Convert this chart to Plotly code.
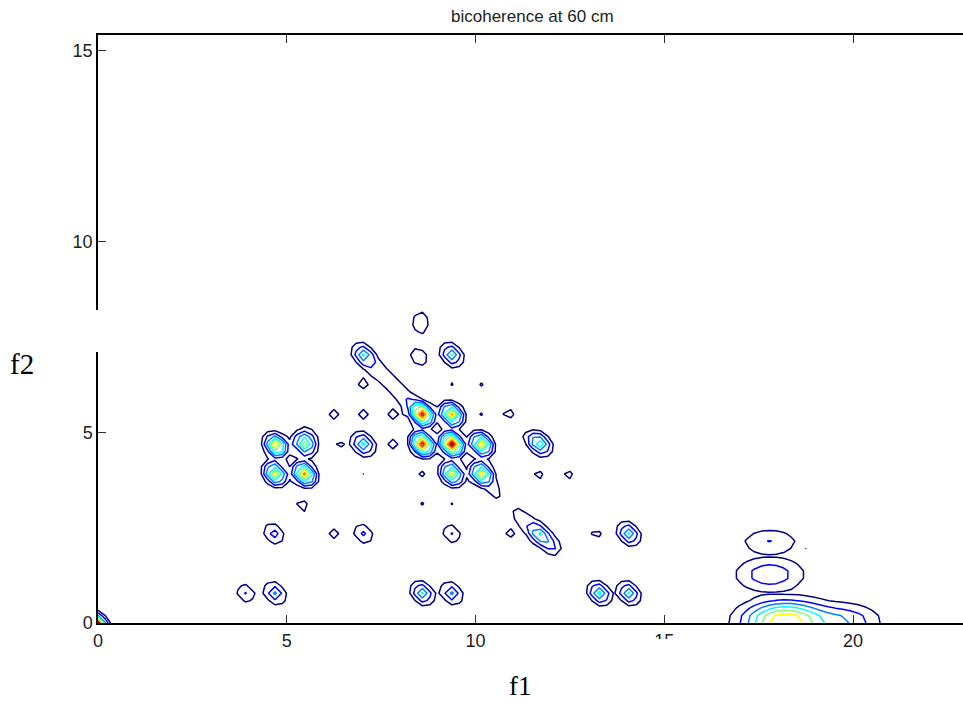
import numpy as np
import plotly.graph_objects as go

# ---- data (frequency in Hz) ----
# compact bicoherence peaks: f1, f2, peak value
peak_f1 = [3.91, 4.69, 8.59, 9.37, 13.28, 14.06,
           4.66, 6.25, 7.03, 9.37, 10.90, 11.67, 11.35, 11.95, 12.09, 13.20, 14.06, 11.08,
           5.42, 8.57, 9.37,
           4.69, 5.47, 6.20, 6.98, 8.56, 9.37, 10.16, 10.55, 10.87, 11.67, 12.46,
           4.72, 5.47, 5.60, 6.38, 7.03, 7.81, 8.59, 9.37, 10.16, 11.72, 11.45,
           6.25, 7.03, 7.81, 8.59, 9.37, 10.12, 10.87,
           7.01, 9.37, 10.16,
           7.30, 7.55, 7.80, 8.05, 8.30,
           7.03, 8.50, 9.37]
peak_f2 = [0.78, 0.78, 0.78, 0.78, 0.78, 0.78,
           2.34, 2.34, 2.34, 2.34, 2.36, 2.34, 2.65, 2.10, 1.94, 2.34, 2.34, 2.91,
           3.08, 3.14, 3.12,
           3.91, 3.91, 3.91, 3.91, 3.91, 3.91, 3.91, 3.40, 3.88, 3.88, 3.88,
           4.65, 4.69, 4.95, 4.67, 4.69, 4.69, 4.69, 4.69, 4.69, 4.69, 4.85,
           5.47, 5.47, 5.47, 5.47, 5.47, 5.50, 5.51,
           6.28, 6.30, 6.25,
           6.75, 6.50, 6.25, 6.00, 5.75,
           7.03, 6.98, 7.03]
peak_val = [0.21, 0.33, 0.42, 0.33, 0.45, 0.42,
            0.26, 0.14, 0.23, 0.21, 0.13, 0.38, 0.14, 0.15, 0.11, 0.13, 0.42, 0.102,
            0.14, 0.11, 0.105,
            0.65, 0.75, 0.102, 0.105, 0.12, 0.65, 0.68, 0.13, 0.102, 0.13, 0.13,
            0.72, 0.55, 0.12, 0.12, 0.45, 0.14, 0.88, 0.95, 0.70, 0.45, 0.12,
            0.14, 0.14, 0.14, 0.85, 0.72, 0.11, 0.14,
            0.14, 0.11, 0.11,
            0.13, 0.13, 0.13, 0.13, 0.13,
            0.40, 0.20, 0.42]

# broad features: f1, f2, peak value, spread along f1, spread along f2, group
broad_f1 = [8.55, 18.20, 19.90, 17.80, 17.80, 18.70, 19.05, 20.85, 21.03, 0.00]
broad_f2 = [7.87, 0.05, 0.05, 1.27, 2.12, 1.94, 1.34, 0.16, 0.00, 0.00]
broad_val = [0.17, 0.70, 0.25, 0.28, 0.205, 0.11, 0.11, 0.105, 0.11, 0.95]
broad_w1 = [0.20, 0.75, 0.60, 0.63, 0.55, 0.12, 0.10, 0.12, 0.12, 0.13]
broad_w2 = [0.28, 0.35, 0.30, 0.32, 0.25, 0.12, 0.15, 0.12, 0.12, 0.13]
broad_group = [1, 2, 2, 3, 4, 5, 6, 7, 8, 9]

contour_levels = [0.1, 0.9, 0.1]  # start, end, step
x_ticks = [0, 5, 10, 15, 20]
y_ticks = [0, 5, 10, 15]

# ---- frequency grid (resolution 25/128 Hz) ----
df = 25 / 128
f1 = np.arange(0, 121) * df
f2 = np.arange(0, 46) * df
F1, F2 = np.meshgrid(f1, f2)

su, sv = 0.21, 0.16
z_peaks = np.zeros_like(F1)
for a, b, v in zip(peak_f1, peak_f2, peak_val):
    dx, dy = F1 - a, F2 - b
    u = (dx - dy) / np.sqrt(2)
    w = (dx + dy) / np.sqrt(2)
    z_peaks += v * np.exp(-(u ** 2 / (2 * su ** 2) + w ** 2 / (2 * sv ** 2)))

groups = {}
for a, b, v, s1, s2, g in zip(broad_f1, broad_f2, broad_val, broad_w1, broad_w2, broad_group):
    field = v * np.exp(-((F1 - a) ** 2 / (2 * s1 ** 2) + (F2 - b) ** 2 / (2 * s2 ** 2)))
    groups[g] = groups.get(g, np.zeros_like(F1)) + field

Z = z_peaks.copy()
for field in groups.values():
    Z = np.maximum(Z, field)

jet = [[0.0, "rgb(0,0,128)"], [0.125, "rgb(0,0,255)"], [0.375, "rgb(0,255,255)"],
       [0.625, "rgb(255,255,0)"], [0.875, "rgb(255,0,0)"], [1.0, "rgb(128,0,0)"]]

fig = go.Figure()
fig.add_trace(go.Contour(
    x=f1, y=f2, z=Z,
    autocontour=False,
    contours=dict(start=contour_levels[0], end=contour_levels[1], size=contour_levels[2],
                  coloring="lines"),
    colorscale=jet, zauto=False, zmin=contour_levels[0], zmax=contour_levels[1],
    line=dict(width=1.5, smoothing=0),
    showscale=False, hoverinfo="skip",
))

W, H = 963, 704
L, R, T, B = 98, 0, 35, 81
pw, ph = W - L - R, H - T - B


def px(xp):  # page pixel -> paper x
    return (xp - L) / pw


def py(yp):  # page pixel -> paper y
    return (H - B - yp) / ph


tick_font = dict(family="Liberation Sans, Arial, sans-serif", size=18, color="#222")

fig.update_layout(
    width=W, height=H, autosize=False,
    margin=dict(l=L, r=R, t=T, b=B, pad=0),
    paper_bgcolor="white", plot_bgcolor="white",
    showlegend=False,
    xaxis=dict(range=[0, pw / 37.75], tickvals=x_ticks, ticks="inside", ticklen=8,
               tickwidth=1, tickcolor="#333", showline=True, linecolor="black",
               linewidth=2, mirror="ticks", showgrid=False, zeroline=False,
               tickfont=tick_font),
    yaxis=dict(range=[0, ph / 38.15], tickvals=y_ticks, ticks="inside", ticklen=8,
               tickwidth=1, tickcolor="#333", showline=True, linecolor="black",
               linewidth=1.5, mirror=False, showgrid=False, zeroline=False,
               tickfont=tick_font),
    annotations=[
        dict(text="bicoherence at 60 cm", xref="paper", yref="paper",
             x=px(532), y=py(16.5), xanchor="center", yanchor="middle",
             showarrow=False, font=dict(family="Liberation Sans, Arial, sans-serif",
                                        size=17, color="#222")),
        dict(text="f1", xref="paper", yref="paper", x=px(520), y=py(686),
             xanchor="center", yanchor="middle", showarrow=False,
             font=dict(family="Liberation Serif, Times New Roman, serif", size=27,
                       color="black")),
        dict(text="f2", xref="paper", yref="paper", x=px(22), y=py(364),
             xanchor="center", yanchor="middle", showarrow=False,
             font=dict(family="Liberation Serif, Times New Roman, serif", size=29,
                       color="black")),
    ],
    shapes=[
        dict(type="rect", xref="paper", yref="paper", layer="above",
             x0=px(94), x1=px(102), y0=py(352), y1=py(310),
             fillcolor="white", line=dict(width=0)),
        dict(type="rect", xref="paper", yref="paper", layer="above",
             x0=px(650), x1=px(680), y0=py(656), y1=py(639),
             fillcolor="white", line=dict(width=0)),
    ],
)

fig.write_html("out.html",
               config={"displayModeBar": False},
               post_script="document.body.style.margin='0';"
                           "document.body.style.overflow='hidden';")
